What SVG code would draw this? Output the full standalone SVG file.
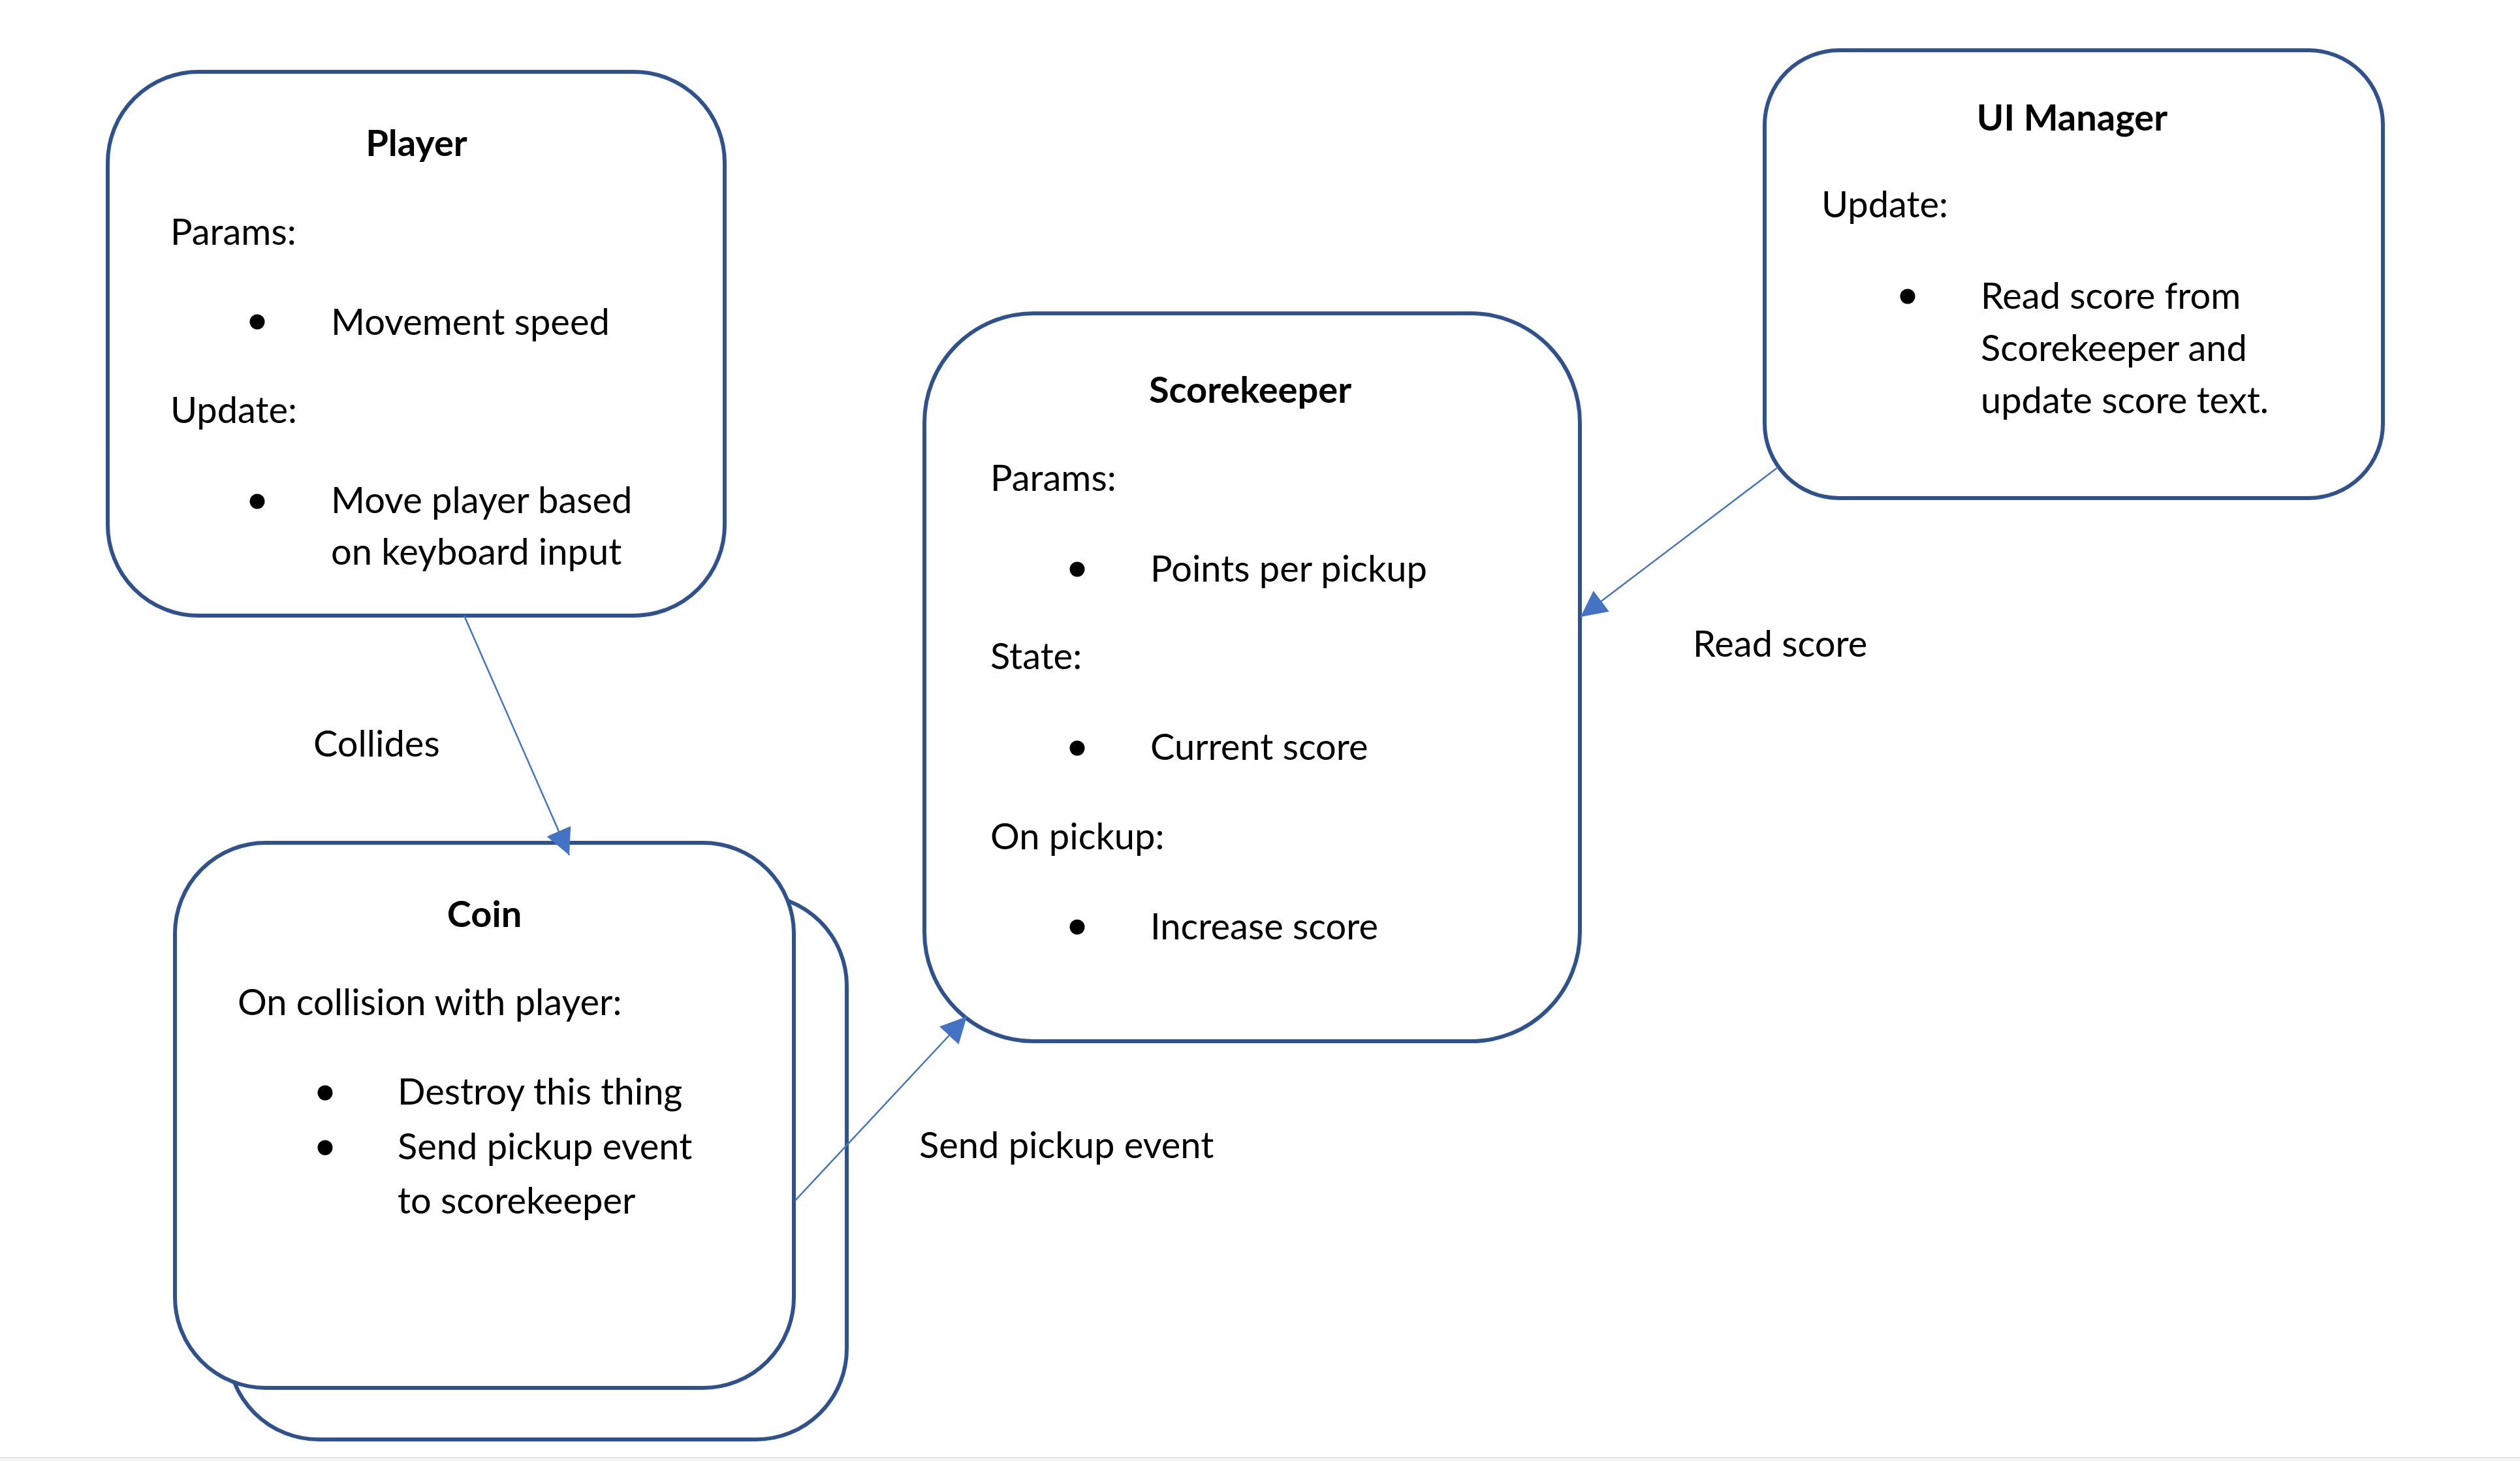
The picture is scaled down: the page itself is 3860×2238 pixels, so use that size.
<svg xmlns="http://www.w3.org/2000/svg" width="3860" height="2238" viewBox="0 0 3860 2238">
<style>
.box{fill:#ffffff;stroke:#2F528F;stroke-width:6}
.t{font-family:Lato,"Open Sans","Liberation Sans",sans-serif;font-size:56px;fill:#000000}
.b{font-weight:bold;text-anchor:middle}
.dot{fill:#000000}
.conn{stroke:#4472C4;stroke-width:2.5;fill:none}
</style>
<defs>
<marker id="arr" markerUnits="userSpaceOnUse" markerWidth="40" markerHeight="40" refX="40" refY="20" orient="auto" viewBox="0 0 40 40">
<path d="M0,0 L40,20 L0,40 z" fill="#4472C4"/>
</marker>
</defs>
<rect width="3860" height="2238" fill="#ffffff"/>
<rect x="0" y="2232" width="3860" height="2" fill="#e2e2e2"/>
<rect x="0" y="2234" width="3860" height="4" fill="#f6f6f6"/>
<g id="player">
<rect class="box" x="165" y="110" width="945" height="833" rx="139" ry="139"/>
<text class="t b" x="638" y="239">Player</text>
<text class="t" x="261" y="375">Params:</text>
<circle class="dot" cx="394" cy="493" r="11.5"/>
<text class="t" x="507" y="513">Movement speed</text>
<text class="t" x="261" y="648">Update:</text>
<circle class="dot" cx="394" cy="768" r="11.5"/>
<text class="t" x="507" y="786">Move player based</text>
<text class="t" x="507" y="865">on keyboard input</text>
</g>
<g id="coin">
<rect class="box" x="349" y="1371" width="948" height="834" rx="139" ry="139"/>
<rect class="box" x="268" y="1291" width="948" height="835" rx="139" ry="139"/>
<text class="t b" x="742" y="1420">Coin</text>
<text class="t" x="364" y="1555">On collision with player:</text>
<circle class="dot" cx="498" cy="1674" r="11.5"/>
<text class="t" x="609" y="1692">Destroy this thing</text>
<circle class="dot" cx="498" cy="1758" r="11.5"/>
<text class="t" x="609" y="1776">Send pickup event</text>
<text class="t" x="609" y="1859">to scorekeeper</text>
</g>
<g id="scorekeeper">
<rect class="box" x="1416" y="480" width="1004" height="1115" rx="167" ry="167"/>
<text class="t b" x="1915" y="617">Scorekeeper</text>
<text class="t" x="1517" y="752">Params:</text>
<circle class="dot" cx="1650" cy="872" r="11.5"/>
<text class="t" x="1762" y="891">Points per pickup</text>
<text class="t" x="1517" y="1025">State:</text>
<circle class="dot" cx="1650" cy="1146" r="11.5"/>
<text class="t" x="1762" y="1164">Current score</text>
<text class="t" x="1517" y="1301">On pickup:</text>
<circle class="dot" cx="1650" cy="1420" r="11.5"/>
<text class="t" x="1762" y="1439">Increase score</text>
</g>
<g id="ui-manager">
<rect class="box" x="2703" y="77" width="947" height="686" rx="114" ry="114"/>
<text class="t b" x="3174" y="200">UI Manager</text>
<text class="t" x="2790" y="333">Update:</text>
<circle class="dot" cx="2922" cy="454" r="11.5"/>
<text class="t" x="3034" y="473">Read score from</text>
<text class="t" x="3034" y="553">Scorekeeper and</text>
<text class="t" x="3034" y="633">update score text.</text>
</g>
<g id="connectors">
<line class="conn" x1="711" y1="943" x2="872" y2="1310" marker-end="url(#arr)"/>
<line class="conn" x1="1218" y1="1839" x2="1481" y2="1557" marker-end="url(#arr)"/>
<line class="conn" x1="2723" y1="716" x2="2421" y2="945" marker-end="url(#arr)"/>
<text class="t" x="480" y="1159">Collides</text>
<text class="t" x="1408" y="1774">Send pickup event</text>
<text class="t" x="2593" y="1006">Read score</text>
</g>
</svg>
